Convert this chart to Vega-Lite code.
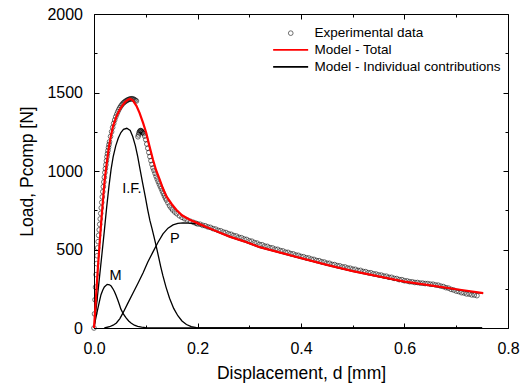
{
  "$schema": "https://vega.github.io/schema/vega-lite/v6.json",
  "width": 414,
  "height": 314,
  "autosize": {"type": "none"},
  "padding": {"left": 94, "top": 14, "right": 23, "bottom": 58},
  "config": {
    "font": "Liberation Sans",
    "view": {"stroke": "black", "strokeWidth": 1},
    "axis": {"grid": false, "domain": false, "tickColor": "black", "labelColor": "black", "titleColor": "black", "labelFont": "Liberation Sans", "titleFont": "Liberation Sans"}
  },
  "datasets": {
    "exp": [
      {"d":0.000,"L":0},{"d":0.001,"L":90},{"d":0.002,"L":180},{"d":0.003,"L":260},{"d":0.004,"L":340},{"d":0.005,"L":410},{"d":0.006,"L":460},{"d":0.007,"L":510},{"d":0.008,"L":550},{"d":0.009,"L":590},{"d":0.010,"L":625},{"d":0.011,"L":660},{"d":0.012,"L":695},{"d":0.013,"L":730},{"d":0.014,"L":765},{"d":0.015,"L":800},{"d":0.016,"L":835},{"d":0.017,"L":868},{"d":0.018,"L":900},{"d":0.019,"L":930},{"d":0.020,"L":960},{"d":0.021,"L":990},{"d":0.022,"L":1015},{"d":0.023,"L":1040},{"d":0.024,"L":1065},{"d":0.025,"L":1090},{"d":0.026,"L":1110},{"d":0.027,"L":1130},{"d":0.028,"L":1150},{"d":0.029,"L":1168},{"d":0.030,"L":1186},{"d":0.032,"L":1220},{"d":0.034,"L":1250},{"d":0.036,"L":1278},{"d":0.038,"L":1303},{"d":0.040,"L":1325},{"d":0.042,"L":1345},{"d":0.044,"L":1362},{"d":0.046,"L":1378},{"d":0.048,"L":1392},{"d":0.050,"L":1404},{"d":0.052,"L":1414},{"d":0.054,"L":1423},{"d":0.056,"L":1431},{"d":0.058,"L":1437},{"d":0.060,"L":1442},{"d":0.062,"L":1447},{"d":0.064,"L":1451},{"d":0.066,"L":1454},{"d":0.068,"L":1457},{"d":0.070,"L":1459},{"d":0.072,"L":1460},{"d":0.074,"L":1460},{"d":0.076,"L":1458},{"d":0.078,"L":1455},{"d":0.080,"L":1450},{"d":0.082,"L":1446},
      {"d":0.085,"L":1218},{"d":0.086,"L":1230},{"d":0.087,"L":1242},{"d":0.088,"L":1250},{"d":0.089,"L":1255},{"d":0.090,"L":1258},{"d":0.091,"L":1256},{"d":0.092,"L":1252},{"d":0.093,"L":1248},{"d":0.094,"L":1244},
      {"d":0.096,"L":1238},{"d":0.098,"L":1222},{"d":0.100,"L":1200},{"d":0.102,"L":1172},{"d":0.104,"L":1145},{"d":0.106,"L":1118},{"d":0.108,"L":1092},{"d":0.110,"L":1066},{"d":0.112,"L":1042},{"d":0.114,"L":1020},{"d":0.116,"L":1003},{"d":0.118,"L":985},{"d":0.120,"L":967},{"d":0.122,"L":950},{"d":0.124,"L":934},{"d":0.126,"L":918},{"d":0.128,"L":903},{"d":0.130,"L":888},{"d":0.132,"L":872},{"d":0.134,"L":857},{"d":0.136,"L":842},{"d":0.138,"L":828},{"d":0.140,"L":815},{"d":0.143,"L":797},{"d":0.146,"L":779},{"d":0.149,"L":765},{"d":0.152,"L":752},{"d":0.156,"L":739},{"d":0.160,"L":728},{"d":0.165,"L":715},{"d":0.170,"L":705},{"d":0.175,"L":696},{"d":0.180,"L":688},{"d":0.186,"L":680},{"d":0.192,"L":673},{"d":0.197,"L":667},
      {"d":0.200,"L":663},{"d":0.205,"L":661},{"d":0.210,"L":654},{"d":0.215,"L":651},{"d":0.220,"L":644},{"d":0.225,"L":641},{"d":0.230,"L":633},{"d":0.235,"L":630},{"d":0.240,"L":622},{"d":0.245,"L":619},{"d":0.250,"L":611},{"d":0.255,"L":608},{"d":0.260,"L":600},{"d":0.265,"L":597},{"d":0.270,"L":589},{"d":0.275,"L":586},{"d":0.280,"L":578},{"d":0.285,"L":575},{"d":0.290,"L":567},{"d":0.295,"L":564},{"d":0.300,"L":555},{"d":0.305,"L":553},{"d":0.310,"L":544},{"d":0.315,"L":541},{"d":0.320,"L":532},{"d":0.325,"L":530},{"d":0.330,"L":522},{"d":0.335,"L":520},{"d":0.340,"L":512},{"d":0.345,"L":510},{"d":0.350,"L":502},{"d":0.355,"L":501},{"d":0.360,"L":493},{"d":0.365,"L":491},{"d":0.370,"L":483},{"d":0.375,"L":482},{"d":0.380,"L":474},{"d":0.385,"L":472},{"d":0.390,"L":465},{"d":0.395,"L":463},{"d":0.400,"L":456},{"d":0.405,"L":454},{"d":0.410,"L":447},{"d":0.415,"L":446},{"d":0.420,"L":439},{"d":0.425,"L":437},{"d":0.430,"L":430},{"d":0.435,"L":429},{"d":0.440,"L":422},{"d":0.445,"L":420},{"d":0.450,"L":413},{"d":0.455,"L":412},{"d":0.460,"L":405},{"d":0.465,"L":404},{"d":0.470,"L":397},{"d":0.475,"L":396},{"d":0.480,"L":389},{"d":0.485,"L":389},{"d":0.490,"L":382},{"d":0.495,"L":381},{"d":0.500,"L":375},{"d":0.505,"L":374},{"d":0.510,"L":367},{"d":0.515,"L":367},{"d":0.520,"L":360},{"d":0.525,"L":359},{"d":0.530,"L":352},{"d":0.535,"L":352},{"d":0.540,"L":345},{"d":0.545,"L":344},{"d":0.550,"L":338},{"d":0.555,"L":337},{"d":0.560,"L":331},{"d":0.565,"L":330},{"d":0.570,"L":323},{"d":0.575,"L":323},{"d":0.580,"L":316},{"d":0.585,"L":315},{"d":0.590,"L":308},{"d":0.595,"L":308},{"d":0.600,"L":301},{"d":0.605,"L":300},{"d":0.610,"L":295},{"d":0.615,"L":294},{"d":0.620,"L":290},{"d":0.625,"L":290},{"d":0.630,"L":286},{"d":0.635,"L":286},{"d":0.640,"L":283},{"d":0.645,"L":283},{"d":0.650,"L":279},{"d":0.655,"L":279},{"d":0.660,"L":274},{"d":0.665,"L":273},{"d":0.670,"L":267},{"d":0.675,"L":264},{"d":0.680,"L":257},{"d":0.685,"L":254},{"d":0.690,"L":246},{"d":0.695,"L":242},{"d":0.700,"L":235},{"d":0.705,"L":232},{"d":0.710,"L":225},{"d":0.715,"L":223},{"d":0.720,"L":217},{"d":0.725,"L":216},{"d":0.730,"L":211},{"d":0.735,"L":210},{"d":0.740,"L":206}
    ],
    "total": [
      {"d":0,"L":0},{"d":0.002,"L":100},{"d":0.0045,"L":230},{"d":0.0077,"L":392},{"d":0.011,"L":545},{"d":0.0143,"L":690},{"d":0.0175,"L":820},{"d":0.0207,"L":945},{"d":0.025,"L":1060},{"d":0.029,"L":1157},{"d":0.033,"L":1228},{"d":0.0367,"L":1284},{"d":0.043,"L":1345},{"d":0.0497,"L":1390},{"d":0.056,"L":1422},{"d":0.061,"L":1442},{"d":0.0657,"L":1454},{"d":0.0695,"L":1460},{"d":0.075,"L":1450},{"d":0.082,"L":1415},{"d":0.088,"L":1370},{"d":0.095,"L":1305},{"d":0.101,"L":1242},{"d":0.107,"L":1160},{"d":0.114,"L":1072},{"d":0.120,"L":1005},{"d":0.127,"L":945},{"d":0.133,"L":890},{"d":0.140,"L":838},{"d":0.150,"L":790},{"d":0.159,"L":753},{"d":0.170,"L":718},{"d":0.185,"L":690},{"d":0.200,"L":668},{"d":0.217,"L":643},{"d":0.240,"L":612},{"d":0.262,"L":582},{"d":0.290,"L":552},{"d":0.320,"L":515},{"d":0.360,"L":480},{"d":0.400,"L":445},{"d":0.450,"L":402},{"d":0.500,"L":362},{"d":0.550,"L":329},{"d":0.600,"L":295},{"d":0.650,"L":272},{"d":0.700,"L":247},{"d":0.752,"L":222}
    ],
    "comp": [
      {"comp":"M","d":0,"L":0},{"comp":"M","d":0.003,"L":55},{"comp":"M","d":0.007,"L":117},{"comp":"M","d":0.0105,"L":170},{"comp":"M","d":0.0135,"L":212},{"comp":"M","d":0.017,"L":242},{"comp":"M","d":0.020,"L":261},{"comp":"M","d":0.0255,"L":278},{"comp":"M","d":0.030,"L":275},{"comp":"M","d":0.033,"L":268},{"comp":"M","d":0.036,"L":253},{"comp":"M","d":0.0394,"L":233},{"comp":"M","d":0.0425,"L":208},{"comp":"M","d":0.0458,"L":180},{"comp":"M","d":0.049,"L":150},{"comp":"M","d":0.052,"L":120},{"comp":"M","d":0.057,"L":88},{"comp":"M","d":0.062,"L":64},{"comp":"M","d":0.067,"L":45},{"comp":"M","d":0.0715,"L":32},{"comp":"M","d":0.078,"L":18},{"comp":"M","d":0.0844,"L":10},{"comp":"M","d":0.092,"L":5},{"comp":"M","d":0.1,"L":2},{"comp":"M","d":0.11,"L":0},{"comp":"M","d":0.75,"L":0},
      {"comp":"I.F.","d":0,"L":0},{"comp":"I.F.","d":0.005,"L":150},{"comp":"I.F.","d":0.010,"L":305},{"comp":"I.F.","d":0.015,"L":460},{"comp":"I.F.","d":0.020,"L":620},{"comp":"I.F.","d":0.0245,"L":770},{"comp":"I.F.","d":0.029,"L":905},{"comp":"I.F.","d":0.033,"L":1010},{"comp":"I.F.","d":0.037,"L":1090},{"comp":"I.F.","d":0.042,"L":1160},{"comp":"I.F.","d":0.047,"L":1210},{"comp":"I.F.","d":0.052,"L":1245},{"comp":"I.F.","d":0.057,"L":1265},{"comp":"I.F.","d":0.0634,"L":1272},{"comp":"I.F.","d":0.070,"L":1258},{"comp":"I.F.","d":0.0748,"L":1220},{"comp":"I.F.","d":0.080,"L":1160},{"comp":"I.F.","d":0.0844,"L":1093},{"comp":"I.F.","d":0.089,"L":1010},{"comp":"I.F.","d":0.094,"L":923},{"comp":"I.F.","d":0.099,"L":838},{"comp":"I.F.","d":0.1038,"L":753},{"comp":"I.F.","d":0.108,"L":685},{"comp":"I.F.","d":0.112,"L":635},{"comp":"I.F.","d":0.116,"L":580},{"comp":"I.F.","d":0.1206,"L":515},{"comp":"I.F.","d":0.125,"L":450},{"comp":"I.F.","d":0.129,"L":390},{"comp":"I.F.","d":0.133,"L":335},{"comp":"I.F.","d":0.139,"L":262},{"comp":"I.F.","d":0.146,"L":190},{"comp":"I.F.","d":0.154,"L":125},{"comp":"I.F.","d":0.162,"L":78},{"comp":"I.F.","d":0.170,"L":45},{"comp":"I.F.","d":0.1786,"L":22},{"comp":"I.F.","d":0.188,"L":9},{"comp":"I.F.","d":0.198,"L":3},{"comp":"I.F.","d":0.21,"L":0},{"comp":"I.F.","d":0.75,"L":0},
      {"comp":"P","d":0.02,"L":0},{"comp":"P","d":0.03,"L":8},{"comp":"P","d":0.037,"L":18},{"comp":"P","d":0.0433,"L":32},{"comp":"P","d":0.05,"L":60},{"comp":"P","d":0.056,"L":96},{"comp":"P","d":0.065,"L":155},{"comp":"P","d":0.0754,"L":223},{"comp":"P","d":0.085,"L":285},{"comp":"P","d":0.0947,"L":350},{"comp":"P","d":0.104,"L":420},{"comp":"P","d":0.114,"L":485},{"comp":"P","d":0.124,"L":548},{"comp":"P","d":0.1333,"L":600},{"comp":"P","d":0.143,"L":636},{"comp":"P","d":0.1527,"L":657},{"comp":"P","d":0.162,"L":666},{"comp":"P","d":0.172,"L":669},{"comp":"P","d":0.182,"L":668},{"comp":"P","d":0.19,"L":666},{"comp":"P","d":0.2,"L":663},{"comp":"P","d":0.217,"L":641},{"comp":"P","d":0.24,"L":610},{"comp":"P","d":0.262,"L":580},{"comp":"P","d":0.29,"L":550},{"comp":"P","d":0.32,"L":513},{"comp":"P","d":0.36,"L":478},{"comp":"P","d":0.4,"L":443},{"comp":"P","d":0.45,"L":400},{"comp":"P","d":0.5,"L":360},{"comp":"P","d":0.55,"L":327},{"comp":"P","d":0.6,"L":293},{"comp":"P","d":0.65,"L":270},{"comp":"P","d":0.7,"L":245},{"comp":"P","d":0.752,"L":220}
    ],
    "labels": [
      {"label":"M","d":0.0418,"L":329},
      {"label":"I.F.","d":0.0732,"L":888},
      {"label":"P","d":0.156,"L":570}
    ]
  },
  "resolve": {"axis": {"x": "independent", "y": "independent"}},
  "layer": [
    {
      "data": {"name": "exp"},
      "mark": {"type": "point", "filled": false, "size": 22, "strokeWidth": 0.8, "stroke": "black", "color": "black"},
      "encoding": {
        "x": {"field": "d", "type": "quantitative", "scale": {"domain": [0, 0.8], "nice": false, "zero": false},
          "axis": {"orient": "bottom", "values": [0, 0.2, 0.4, 0.6, 0.8], "format": ".1f", "tickSize": -5, "labelPadding": 17, "labelFlush": false, "labelOverlap": false, "labelFontSize": 16,
            "title": "Displacement, d [mm]", "titleFontSize": 17.5, "titleFontWeight": "normal", "titlePadding": 8}},
        "y": {"field": "L", "type": "quantitative", "scale": {"domain": [0, 2000], "nice": false, "zero": false},
          "axis": {"orient": "left", "values": [0, 500, 1000, 1500, 2000], "format": "d", "tickSize": -5, "labelPadding": 16.5, "labelFlush": false, "labelOverlap": false, "labelFontSize": 16,
            "title": "Load, Pcomp [N]", "titleFontSize": 17.5, "titleFontWeight": "normal", "titlePadding": 10}},
        "shape": {"datum": "Experimental data", "type": "nominal",
          "scale": {"domain": ["Experimental data"], "range": ["circle"]},
          "legend": {"orient": "none", "legendX": 190, "legendY": 12.4, "title": null, "symbolSize": 22, "symbolStrokeColor": "black", "symbolFillColor": "transparent", "symbolStrokeWidth": 0.8,
            "labelFontSize": 13.5, "labelFont": "Liberation Sans", "labelColor": "black", "labelOffset": 17, "labelLimit": 400, "rowPadding": 2, "padding": 0}}
      }
    },
    {
      "data": {"name": "comp"},
      "mark": {"type": "line", "strokeWidth": 1.3},
      "encoding": {
        "x": {"field": "d", "type": "quantitative", "axis": {"orient": "top", "values": [0, 0.2, 0.4, 0.6, 0.8], "tickSize": -5, "labels": false, "title": null}},
        "y": {"field": "L", "type": "quantitative", "axis": {"orient": "right", "values": [0, 500, 1000, 1500, 2000], "tickSize": -5, "labels": false, "title": null}},
        "detail": {"field": "comp"},
        "order": {"field": "d", "type": "quantitative"},
        "color": {"datum": "Model - Individual contributions", "type": "nominal",
          "scale": {"domain": ["Model - Total", "Model - Individual contributions"], "range": ["#ff0000", "black"]},
          "legend": {"orient": "none", "legendX": 189.9, "legendY": 29.2, "title": null, "symbolType": "M-7,0H7", "symbolSize": 25, "symbolStrokeWidth": 1.7, "symbolFillColor": "transparent",
            "labelFontSize": 13.5, "labelFont": "Liberation Sans", "labelColor": "black", "labelOffset": 17, "labelLimit": 400, "rowPadding": 2, "padding": 0}}
      }
    },
    {
      "data": {"name": "total"},
      "mark": {"type": "line", "strokeWidth": 2.2},
      "encoding": {
        "x": {"field": "d", "type": "quantitative", "axis": {"orient": "bottom", "values": [0.1, 0.3, 0.5, 0.7], "tickSize": -3, "labels": false, "title": null}},
        "y": {"field": "L", "type": "quantitative", "axis": {"orient": "left", "values": [250, 750, 1250, 1750], "tickSize": -3, "labels": false, "title": null}},
        "order": {"field": "d", "type": "quantitative"},
        "color": {"datum": "Model - Total", "type": "nominal"}
      }
    },
    {
      "data": {"name": "labels"},
      "mark": {"type": "text", "fontSize": 14.5, "font": "Liberation Sans", "color": "black"},
      "encoding": {
        "x": {"field": "d", "type": "quantitative", "axis": {"orient": "top", "values": [0.1, 0.3, 0.5, 0.7], "tickSize": -3, "labels": false, "title": null}},
        "y": {"field": "L", "type": "quantitative", "axis": {"orient": "right", "values": [250, 750, 1250, 1750], "tickSize": -3, "labels": false, "title": null}},
        "text": {"field": "label"}
      }
    }
  ]
}
